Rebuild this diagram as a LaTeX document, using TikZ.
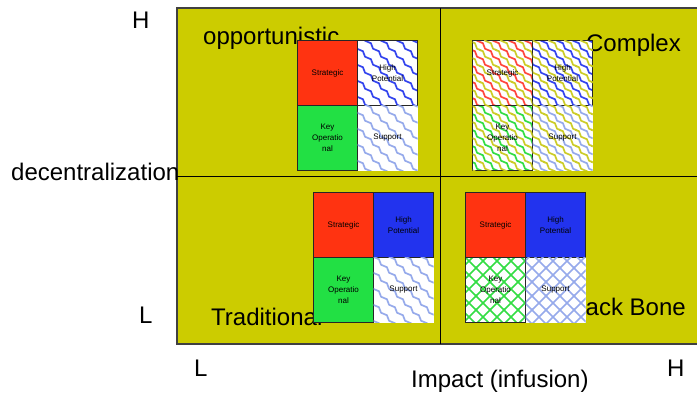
\documentclass[tikz,border=0pt]{standalone}
\usepackage{fontspec}
\setmainfont{Liberation Sans}
\usetikzlibrary{patterns}

\newcommand{\wavesegs}[1]{%
  \pgfpathmoveto{\pgfqpoint{#1pt}{16pt}}%
  \pgfpathcurveto{\pgfqpoint{\numexpr#1+6\relax pt}{16pt}}{\pgfqpoint{\numexpr#1+2\relax pt}{8pt}}{\pgfqpoint{\numexpr#1+8\relax pt}{8pt}}%
  \pgfpathcurveto{\pgfqpoint{\numexpr#1+14\relax pt}{8pt}}{\pgfqpoint{\numexpr#1+10\relax pt}{0pt}}{\pgfqpoint{\numexpr#1+16\relax pt}{0pt}}}
\pgfdeclarepatternformonly{wavep}{\pgfqpoint{-1pt}{-1pt}}{\pgfqpoint{17pt}{17pt}}{\pgfqpoint{16pt}{16pt}}{%
  \pgfsetlinewidth{1.7pt}\wavesegs{0}\pgfusepath{stroke}}
\pgfdeclarepatternformonly{wavepb}{\pgfqpoint{-1pt}{-1pt}}{\pgfqpoint{17pt}{17pt}}{\pgfqpoint{16pt}{16pt}}{%
  \pgfsetlinewidth{1.7pt}\wavesegs{8}\wavesegs{-8}\pgfusepath{stroke}}
\pgfdeclarepatternformonly{diamp}{\pgfqpoint{-1pt}{-1pt}}{\pgfqpoint{15pt}{15pt}}{\pgfqpoint{14pt}{14pt}}{%
  \pgfsetlinewidth{1.6pt}%
  \pgfpathmoveto{\pgfqpoint{-1pt}{-1pt}}\pgfpathlineto{\pgfqpoint{15pt}{15pt}}%
  \pgfpathmoveto{\pgfqpoint{-1pt}{15pt}}\pgfpathlineto{\pgfqpoint{15pt}{-1pt}}%
  \pgfusepath{stroke}}

\definecolor{bgyel}{RGB}{204,204,0}
\definecolor{cred}{RGB}{255,51,17}
\definecolor{cgreen}{RGB}{34,224,68}
\definecolor{cblue}{RGB}{34,51,238}
\definecolor{pblue}{RGB}{51,68,238}
\definecolor{plblue}{RGB}{150,170,235}
\definecolor{pred}{RGB}{255,70,60}
\definecolor{pyel}{RGB}{204,204,40}
\definecolor{pgreen}{RGB}{51,221,68}

\tikzset{
  big/.style={font=\fontsize{24}{28}\selectfont, inner sep=0pt},
  cell/.style={draw=black!85, line width=1pt, minimum width=60pt, minimum height=65pt,
    inner sep=0pt, anchor=north west, align=center, font=\fontsize{8}{11}\selectfont},
  nocell/.style={cell, draw=none},
  wv/.style={preaction={fill=white}, pattern=wavep, pattern color=#1},
  wv2/.style={preaction={fill=white}, pattern=wavep, pattern color=#1,
    postaction={pattern=wavepb, pattern color=pyel}},
  dm/.style={preaction={fill=white}, pattern=diamp, pattern color=#1},
}

\begin{document}
\begin{tikzpicture}[x=1pt,y=-1pt]
\useasboundingbox (0,0) rectangle (697,394);

% background frame
\fill[bgyel] (177,8) rectangle (710,344);
\draw[black!75, line width=1.5pt] (710,8) -- (177,8) -- (177,344) -- (710,344);
\draw[black, line width=0.8pt] (177,176) -- (710,176);
\draw[black, line width=0.8pt] (440,8) -- (440,344);

% axis labels
\node[big, anchor=base west] (hT) at (132,28) {H};
\node[big, anchor=base west] (lL) at (139,323) {L};
\node[big, anchor=base west] (dec) at (11,180) {decentralization};
\node[big, anchor=base west] (lB) at (194,376) {L};
\node[big, anchor=base west] (hB) at (667,376) {H};
\node[big, anchor=base west] (imp) at (411,387) {Impact (infusion)};

% quadrant labels
\node[big, anchor=base west] (opp) at (203,44) {opportunistic};
\node[big, anchor=base east] (cpx) at (681,51) {Complex};
\node[big, anchor=base west] (trad) at (211,325) {Traditional};
\node[big, anchor=base east] (bb) at (686,315) {Back Bone};

% top-left matrix
\node[cell, fill=cred] (a1) at (297,40) {Strategic};
\node[cell, wv=pblue] (a2) at (357,40) {High\\Potential};
\node[cell, fill=cgreen] (a3) at (297,105) {Key\\Operatio\\nal};
\node[nocell, wv=plblue] (a4) at (357,105) {Support};

% top-right matrix
\node[cell, wv2=pred] (b1) at (472,40) {Strategic};
\node[cell, wv2=pblue] (b2) at (532,40) {High\\Potential};
\node[cell, wv2=pgreen] (b3) at (472,105) {Key\\Operatio\\nal};
\node[nocell, wv2=plblue] (b4) at (532,105) {Support};

% bottom-left matrix
\node[cell, fill=cred] (c1) at (313,192) {Strategic};
\node[cell, fill=cblue] (c2) at (373,192) {High\\Potential};
\node[cell, fill=cgreen] (c3) at (313,257) {Key\\Operatio\\nal};
\node[nocell, wv=plblue] (c4) at (373,257) {Support};

% bottom-right matrix
\node[cell, fill=cred] (d1) at (465,192) {Strategic};
\node[cell, fill=cblue] (d2) at (525,192) {High\\Potential};
\node[cell, dm=pgreen] (d3) at (465,257) {Key\\Operatio\\nal};
\node[nocell, dm=plblue] (d4) at (525,257) {Support};
\end{tikzpicture}
\end{document}
